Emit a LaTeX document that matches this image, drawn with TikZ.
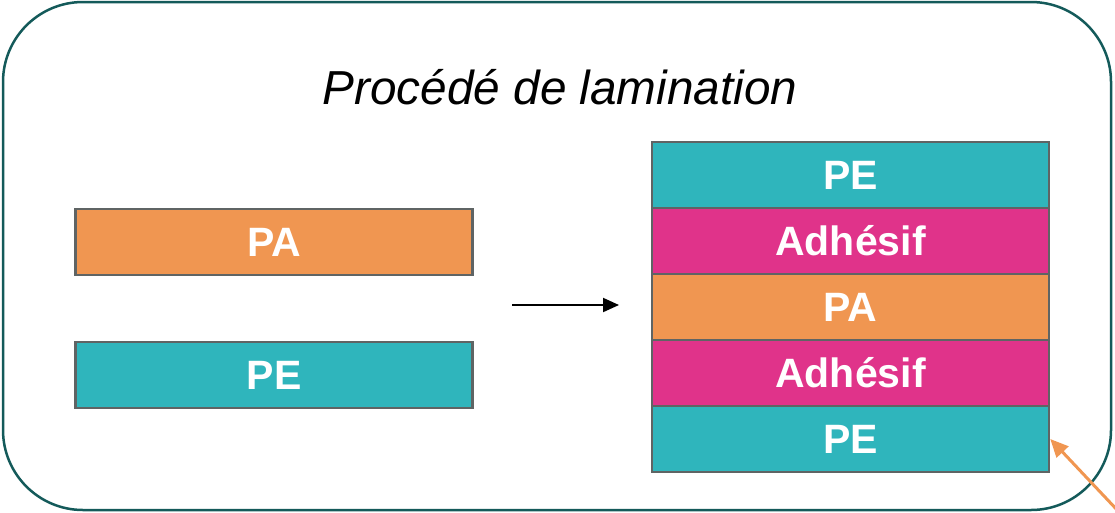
\documentclass[tikz,border=0pt]{standalone}
\usepackage{fontspec}
\setmainfont{Liberation Sans}
\usetikzlibrary{arrows.meta}
\definecolor{frameC}{HTML}{145A5A}
\definecolor{peC}{HTML}{2FB5BC}
\definecolor{paC}{HTML}{F09651}
\definecolor{adC}{HTML}{E0338A}
\definecolor{edgeC}{HTML}{5F6464}
\definecolor{arrC}{HTML}{F09651}
\begin{document}
\begin{tikzpicture}[x=1pt,y=-1pt,
  layer/.style={draw=edgeC, line width=2.5pt, minimum width=397pt, minimum height=66pt,
    inner sep=0pt, text=white, font=\fontsize{41}{41}\selectfont\bfseries},
  frame/.style={draw=frameC, line width=2.5pt, rounded corners=80pt, inner sep=0pt}]
\useasboundingbox (0,0) rectangle (1115,512);
\node[frame, minimum width=1108pt, minimum height=508pt] (frame) at (557,256) {};
\node[font=\fontsize{47.7}{48}\selectfont\itshape] (title) at (560,87) {Procédé de lamination};
\node[layer, fill=paC] (pa1) at (274,242) {PA};
\node[layer, fill=peC] (pe1) at (274,375) {PE};
\node[layer, fill=peC] (s1) at (850.5,175) {PE};
\node[layer, fill=adC] (s2) at (850.5,241) {Adhésif};
\node[layer, fill=paC] (s3) at (850.5,307) {PA};
\node[layer, fill=adC] (s4) at (850.5,373) {Adhésif};
\node[layer, fill=peC] (s5) at (850.5,439) {PE};
\coordinate (a0) at (512,305);
\coordinate (a1) at (619,305);
\draw[line width=2pt, -{Triangle[length=16pt,width=14pt]}] (a0) -- (a1);
\coordinate (o0) at (1120,513);
\draw[draw=arrC, line width=3pt, -{Triangle[length=18pt,width=16pt]}] (o0) -- (s5.east);
\end{tikzpicture}
\end{document}
